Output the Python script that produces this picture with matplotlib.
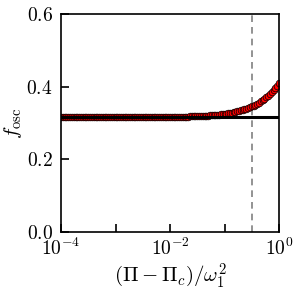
import numpy as np
import matplotlib
matplotlib.use("Agg")
import matplotlib.pyplot as plt

plt.rcParams['font.family'] = 'serif'
plt.rcParams['font.serif'] = ['cmr10']
plt.rcParams['mathtext.fontset'] = 'cm'
plt.rcParams['axes.formatter.use_mathtext'] = True
plt.rcParams['font.size'] = 14

# data
x_exp_start, x_exp_stop, n_pts = -4, 0, 121
f_osc = ([0.3160] * 30 +
         [0.3160] * 8 + [0.3161] * 8 + [0.3162] * 5 + [0.3163] * 3 + [0.3164] * 2 +
         [0.3165, 0.3166, 0.3167, 0.3168] +
         [0.3169, 0.3170, 0.3171, 0.3172, 0.3173, 0.3174, 0.3175, 0.3176, 0.3177, 0.3179,
          0.3180, 0.3182, 0.3184, 0.3185, 0.3188, 0.3190, 0.3192, 0.3195, 0.3197, 0.3200,
          0.3204, 0.3207, 0.3211, 0.3215, 0.3219, 0.3224, 0.3229, 0.3235, 0.3241, 0.3247,
          0.3254, 0.3262, 0.3270, 0.3278, 0.3288, 0.3298, 0.3309, 0.3321, 0.3334, 0.3348,
          0.3362, 0.3379, 0.3396, 0.3415, 0.3435, 0.3457, 0.3481, 0.3507, 0.3534, 0.3564,
          0.3596, 0.3631, 0.3669, 0.3709, 0.3753, 0.3800, 0.3851, 0.3907, 0.3966, 0.4031,
          0.4100])
f_asym = 0.316
x_crit = 0.32

x = np.logspace(x_exp_start, x_exp_stop, n_pts)

fig = plt.figure(figsize=(2.94, 2.94), dpi=100)
ax = fig.add_axes([0.2075, 0.211, 0.7415, 0.741])
ax.plot(x, f_osc, 'o', ms=4.8, mfc='red', mec='black', mew=0.5, zorder=2, clip_on=True)
ax.axhline(f_asym, color='black', lw=2.2, zorder=3)
ax.axvline(x_crit, color='gray', ls='--', lw=1.2, dashes=(4, 3), zorder=1)
ax.set_xscale('log')
ax.set_xlim(1e-4, 1)
ax.set_ylim(0, 0.6)
ax.set_xticks([1e-4, 1e-3, 1e-2, 1e-1, 1])
ax.set_xticklabels([r'$10^{-4}$', '', r'$10^{-2}$', '', r'$10^{0}$'])
ax.xaxis.set_minor_locator(matplotlib.ticker.NullLocator())
ax.set_yticks([0, 0.2, 0.4, 0.6])
ax.set_yticklabels([r'$0.0$', r'$0.2$', r'$0.4$', r'$0.6$'])
ax.tick_params(direction='in', length=6, width=1.2, labelsize=14)
ax.tick_params(axis='y', pad=6)
ax.tick_params(axis='x', pad=4)
for s in ax.spines.values():
    s.set_linewidth(1.2)
ax.set_xlabel(r'$(\Pi - \Pi_c)/\omega_1^2$', fontsize=15, labelpad=2)
ax.set_ylabel(r'$f_{\rm osc}$', fontsize=15, labelpad=2)
fig.savefig('out.png', dpi=100)
